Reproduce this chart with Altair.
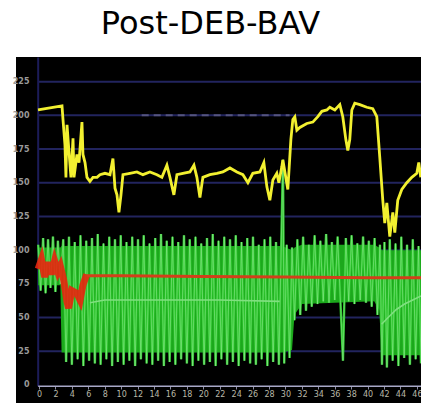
import altair as alt
import pandas as pd

title_text = "Post-DEB-BAV"
y_ticks = [0, 25, 50, 75, 100, 125, 150, 175, 200, 225]
x_ticks = list(range(0, 47, 2))
grid_levels = [25, 50, 75, 100, 125, 150, 175, 200, 225]

yellow_t = [-0.12, 2.8, 2.92, 3.16, 3.28, 3.41, 3.65, 3.89, 4.14, 4.26, 4.62, 4.87, 5.23, 5.35, 5.6, 5.84,
            6.2, 6.57, 7.06, 7.42, 8.03, 8.64, 9.0, 9.25, 9.49, 9.73, 9.98, 10.22, 11.07, 11.92, 12.65,
            13.5, 14.36, 14.96, 15.57, 15.94, 16.42, 16.79, 17.52, 18.37, 18.86, 19.22, 19.59, 19.95,
            20.8, 21.65, 22.38, 23.24, 24.09, 24.82, 25.43, 26.03, 26.89, 27.37, 27.74, 28.1, 28.47,
            28.95, 29.2, 29.56, 29.68, 30.29, 30.66, 30.9, 31.14, 31.39, 31.75, 32.6, 33.33, 33.94,
            34.43, 35.04, 35.4, 36.01, 36.62, 36.98, 37.35, 37.59, 37.83, 38.08, 38.44, 39.05, 39.9,
            40.63, 41.12, 41.48, 41.85, 42.09, 42.34, 42.7, 43.07, 43.31, 43.67, 44.16, 44.77, 45.38,
            45.99, 46.23, 46.47]
yellow_v = [204, 207, 197, 178, 154, 193, 173, 154, 183, 154, 171, 165, 195, 171, 165, 154,
            151, 154, 154, 156, 157, 156, 168, 146, 141, 128, 141, 156, 157, 158, 156,
            158, 156, 154, 163, 154, 141, 156, 157, 158, 163, 154, 139, 154,
            156, 157, 158, 161, 158, 156, 150, 157, 158, 165, 147, 137, 152,
            157, 150, 162, 167, 145, 182, 197, 199, 189, 191, 194, 195, 199,
            203, 204, 206, 204, 208, 199, 182, 174, 182, 204, 209, 208, 206,
            205, 199, 169, 137, 120, 135, 110, 128, 113, 137, 145, 150, 154,
            157, 165, 154]

green_t = [-0.1, 0.2, 0.5, 0.8, 1.1, 1.4, 1.7, 2.0, 2.3, 2.6,
           2.95, 3.3, 3.65, 4.0, 4.35, 4.7, 5.05, 5.4, 5.75, 6.1, 6.45, 6.8, 7.15, 7.5, 7.85, 8.2,
           8.55, 8.9, 9.25, 9.6, 9.95, 10.3, 10.65, 11.0, 11.35, 11.7, 12.05, 12.4, 12.75, 13.1,
           13.45, 13.8, 14.15, 14.5, 14.85, 15.2, 15.55, 15.9, 16.25, 16.6, 16.95, 17.3, 17.65,
           18.0, 18.35, 18.7, 19.05, 19.4, 19.75, 20.1, 20.45, 20.8, 21.15, 21.5, 21.85, 22.2,
           22.55, 22.9, 23.25, 23.6, 23.95, 24.3, 24.65, 25.0, 25.35, 25.7, 26.05, 26.4, 26.75,
           27.1, 27.45, 27.8, 28.15, 28.5, 28.85, 29.2,
           29.5, 29.7, 29.85, 30.15, 30.5, 30.8, 31.1,
           31.45, 31.8, 32.15, 32.5, 32.85, 33.2, 33.55, 33.9, 34.25, 34.6, 34.95, 35.3, 35.65,
           36.0, 36.35, 36.7, 37.0, 37.35, 37.7, 38.05, 38.4, 38.75, 39.1, 39.45, 39.8, 40.15,
           40.5, 40.85, 41.2, 41.5,
           41.75, 42.05, 42.35, 42.7, 43.05, 43.4, 43.75, 44.1, 44.45, 44.8, 45.15, 45.5, 45.85,
           46.2, 46.5]
green_v = [104, 70, 109, 68, 108, 72, 110, 69, 107, 75,
           108, 17, 110, 15, 106, 19, 111, 14, 107, 18, 109, 16, 112, 15, 105, 19,
           110, 14, 108, 17, 111, 15, 106, 18, 110, 14, 108, 19, 111, 16,
           105, 15, 109, 18, 112, 14, 107, 17, 110, 15, 106, 19, 111,
           16, 108, 14, 110, 18, 105, 15, 109, 17, 112, 14, 107, 19,
           110, 15, 108, 17, 111, 14, 106, 18, 109, 16, 110, 15, 104,
           19, 108, 14, 110, 17, 106, 15,
           108, 167, 16, 104, 20, 102, 48,
           108, 52, 110, 55, 104, 58, 111, 60, 107, 62, 112, 61, 106,
           63, 110, 61, 18, 109, 62, 111, 60, 105, 63, 110, 61, 107,
           58, 109, 52, 104,
           15, 106, 13, 108, 18, 105, 14, 110, 20, 104, 15, 108, 19,
           103, 16]

# envelope of the dense green band (solid body between the teeth)
band_t = [-0.1, 2.6, 2.75, 29.4, 29.6, 30.8, 31.1, 32.0, 40.8, 41.4, 41.75, 46.5]
band_lo = [74, 74, 24, 24, 24, 26, 52, 60, 62, 56, 22, 22]
band_hi = [102, 102, 103, 103, 103, 100, 102, 104, 104, 102, 100, 100]

mean_seg = ["a", "a", "a", "a", "a", "b", "b", "b", "b", "b", "b"]
mean_t = [6.2, 8.0, 15.0, 22.0, 29.3, 41.7, 42.5, 43.5, 44.5, 45.5, 46.5]
mean_v = [61, 63, 63, 63, 62, 45, 50, 56, 60, 63, 66]

red_start_t = [-0.1, 0.3, 0.7, 1.1, 1.5, 1.9, 2.3, 2.6, 3.0, 3.4, 3.6, 4.0, 4.6, 5.0, 5.35, 5.8]
red_start_v = [86, 93, 80, 91, 82, 92, 84, 88, 78, 62, 57, 70, 68, 63, 74, 82]
red_flat_t = [5.8, 10.0, 20.0, 30.0, 40.0, 46.5]
red_flat_v = [81, 81, 80.5, 80, 79.5, 79.5]

xs = alt.Scale(domain=[-2.8, 46.5], nice=False, zero=False)
ys = alt.Scale(domain=[-13.4, 243.3], nice=False, zero=False)
xaxis = alt.Axis(values=x_ticks, title=None, domain=False, grid=False, offset=-17,
                 tickSize=3, tickColor="#8c8ca0", tickWidth=1, labelColor="#b8b8a8",
                 labelFontSize=8, labelFont="DejaVu Sans", labelPadding=1, labelFlush=False)
yaxis = alt.Axis(values=y_ticks, title=None, domain=False, grid=False, ticks=False,
                 labelColor="#9a9a9a", labelFontSize=8, labelFont="DejaVu Sans",
                 labelPadding=-13, labelFontWeight="bold")


def X(field):
    return alt.X(field, type="quantitative", scale=xs, axis=xaxis)


def Y(field):
    return alt.Y(field, type="quantitative", scale=ys, axis=yaxis)


grid_df = pd.DataFrame({"v": grid_levels, "x0": -0.1, "x1": 46.5})
grid = alt.Chart(grid_df).mark_rule(color="#22245e", strokeWidth=2).encode(
    x=X("x0"), x2="x1", y=Y("v"))

dash_df = pd.DataFrame({"v": [200], "x0": [12.5], "x1": [30.5]})
dash = alt.Chart(dash_df).mark_rule(color="#55557f", strokeWidth=2, strokeDash=[7, 5]).encode(
    x=X("x0"), x2="x1", y=Y("v"))

vline_df = pd.DataFrame({"x": [-0.1], "y0": [-1], "y1": [243]})
vline = alt.Chart(vline_df).mark_rule(color="#1c1c58", strokeWidth=2).encode(
    x=X("x"), y=Y("y0"), y2="y1")

axis_df = pd.DataFrame({"v": [-1], "x0": [-0.1], "x1": [46.5]})
axis_line = alt.Chart(axis_df).mark_rule(color="#a8a8c8", strokeWidth=1.5).encode(
    x=X("x0"), x2="x1", y=Y("v"))

band_df = pd.DataFrame({"t": band_t, "lo": band_lo, "hi": band_hi})
band = alt.Chart(band_df).mark_area(color="#1ca81c", opacity=1).encode(
    x=X("t"), y=Y("lo"), y2="hi")

green_df = pd.DataFrame({"t": green_t, "v": green_v, "i": range(len(green_t))})
green = alt.Chart(green_df).mark_line(color="#2cc42c", strokeWidth=2.4).encode(
    x=X("t"), y=Y("v"), order="i")
green_hi = alt.Chart(green_df).mark_line(color="#9af09a", strokeWidth=0.7, opacity=0.75).encode(
    x=X("t"), y=Y("v"), order="i")

mean_df = pd.DataFrame({"t": mean_t, "v": mean_v, "s": mean_seg})
mean = alt.Chart(mean_df).mark_line(color="#7fe07f", strokeWidth=1.6).encode(
    x=X("t"), y=Y("v"), detail="s")

red_start_df = pd.DataFrame({"t": red_start_t, "v": red_start_v})
red_start = alt.Chart(red_start_df).mark_line(color="#e8250e", strokeWidth=7, opacity=0.9).encode(
    x=X("t"), y=Y("v"))
red_flat_df = pd.DataFrame({"t": red_flat_t, "v": red_flat_v})
red_flat = alt.Chart(red_flat_df).mark_line(color="#d2401a", strokeWidth=3).encode(
    x=X("t"), y=Y("v"))

yellow_df = pd.DataFrame({"t": yellow_t, "v": yellow_v})
yellow = alt.Chart(yellow_df).mark_line(color="#f2f030", strokeWidth=2.8).encode(
    x=X("t"), y=Y("v"))

chart = alt.layer(grid, dash, vline, band, green, green_hi, mean, red_start, red_flat, yellow,
                  axis_line).properties(
    width=405, height=346,
    title=alt.TitleParams(title_text, fontSize=32, font="DejaVu Sans", fontWeight="normal",
                          color="#000000", anchor="middle", baseline="alphabetic", offset=-10, dx=-8),
    padding={"left": 16, "top": 57, "right": 0, "bottom": 0},
    autosize=alt.AutoSizeParams(type="none"),
).configure(background="white").configure_view(fill="black", stroke=None)

chart.save("out.html", embed_options={"renderer": "svg", "actions": False})
